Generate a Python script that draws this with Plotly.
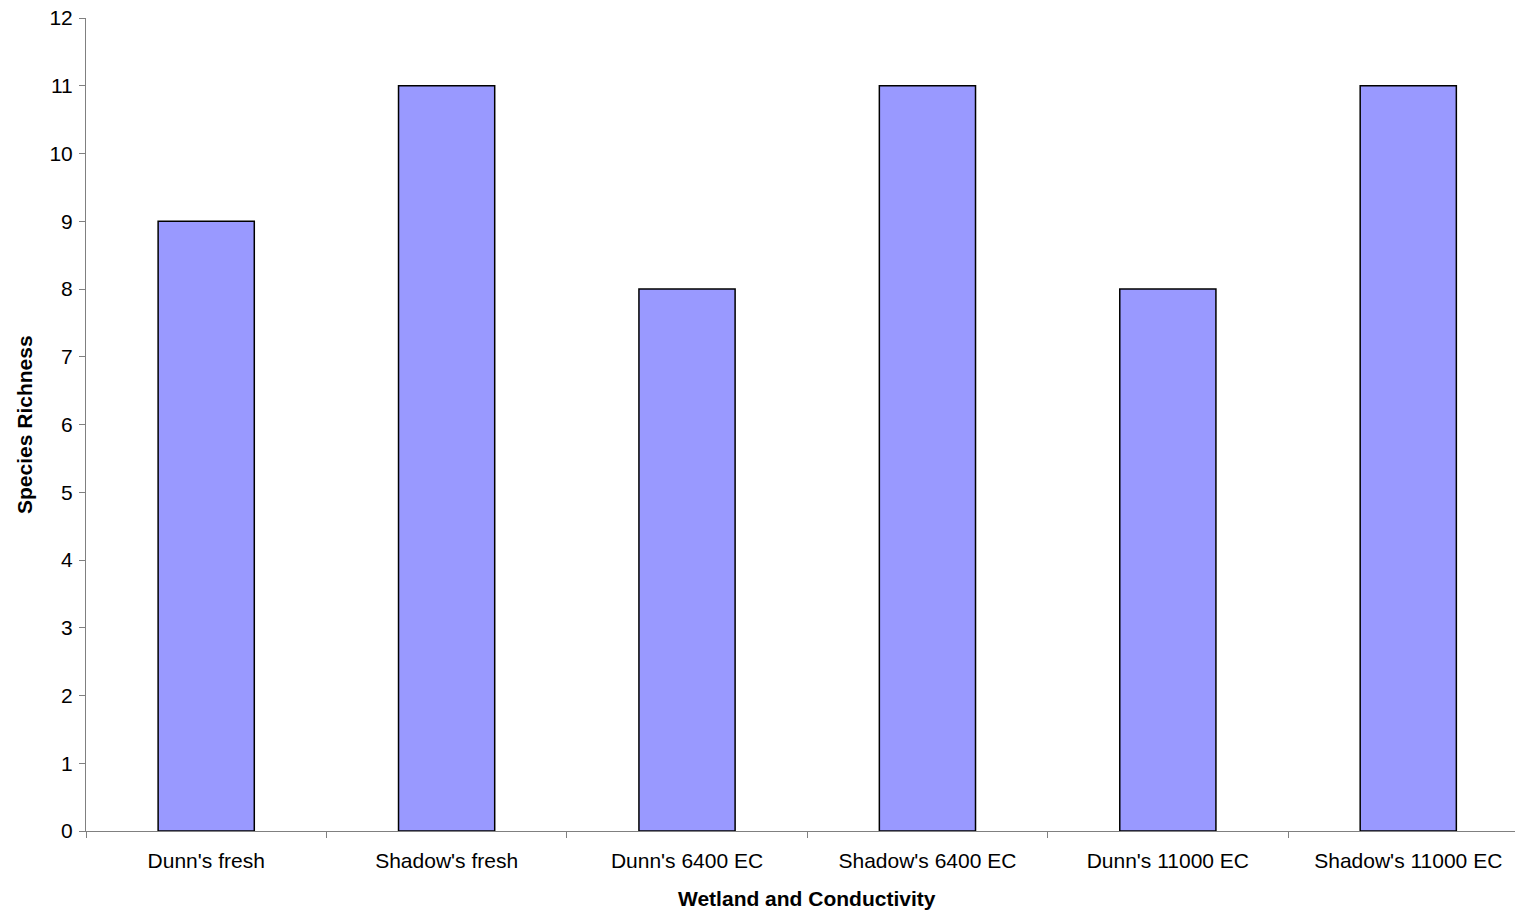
import plotly.graph_objects as go

categories = ["Dunn's fresh", "Shadow's fresh", "Dunn's 6400 EC", "Shadow's 6400 EC",
              "Dunn's 11000 EC", "Shadow's 11000 EC"]
richness = [9, 11, 8, 11, 8, 11]
y_ticks = list(range(0, 13))

FONT = "Liberation Sans, Arial, sans-serif"

fig = go.Figure(go.Bar(
    x=categories, y=richness, width=0.4,
    marker=dict(color="#9999FF", line=dict(color="black", width=1.5)),
))

fig.update_layout(
    width=1515, height=914,
    margin=dict(l=86, r=0, t=18, b=83),
    paper_bgcolor="white", plot_bgcolor="white",
    font=dict(family=FONT, size=21, color="black"),
    showlegend=False,
    xaxis=dict(type="category", range=[-0.5, 5.444], tickson="boundaries",
               ticks="outside", ticklen=6, tickcolor="#808080",
               showline=True, linecolor="#808080", linewidth=1,
               showgrid=False, zeroline=False, ticklabelstandoff=11,
               tickfont=dict(size=21)),
    yaxis=dict(range=[0, 12], tickvals=y_ticks, ticks="outside", ticklen=6,
               tickcolor="#808080", showline=True, linecolor="#808080",
               linewidth=1, showgrid=False, zeroline=False,
               ticklabelstandoff=2, tickfont=dict(size=21)),
    annotations=[
        dict(text="<b>Wetland and Conductivity</b>", xref="paper", yref="paper",
             x=(807 - 86) / 1429, y=-(898 - 831) / 813, xanchor="center",
             yanchor="middle", showarrow=False, font=dict(size=21)),
        dict(text="<b>Species Richness</b>", xref="paper", yref="paper",
             x=-(86 - 24) / 1429, y=(831 - 425) / 813, xanchor="center",
             yanchor="middle", textangle=-90, showarrow=False, font=dict(size=21)),
    ],
)

fig.write_html("out.html")
